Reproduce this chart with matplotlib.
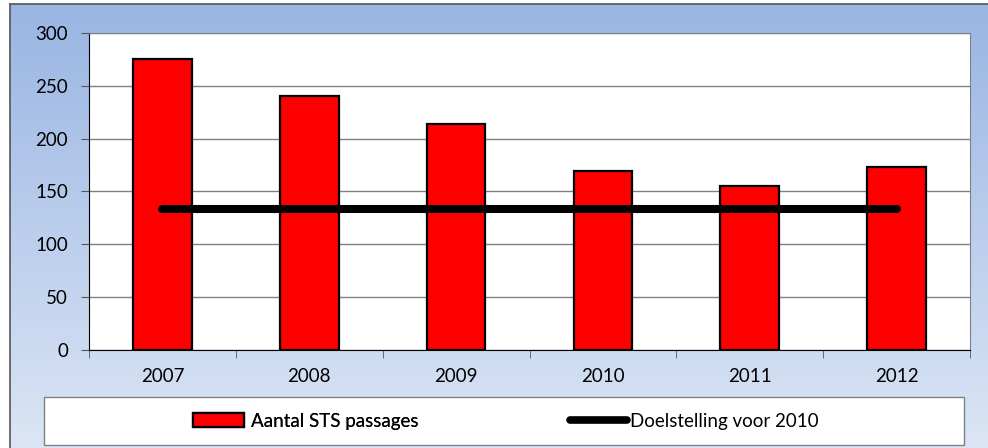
import numpy as np
import matplotlib.pyplot as plt
from matplotlib.lines import Line2D
from matplotlib.patches import Patch, Rectangle

years = ['2007', '2008', '2009', '2010', '2011', '2012']
sts_passages = [275, 240, 214, 169, 155, 173]
target_2010 = [133, 133, 133, 133, 133, 133]

plt.rcParams['font.family'] = ['Lato', 'DejaVu Sans']
FS = 13.5
W, H = 988, 448

fig = plt.figure(figsize=(W / 100, H / 100), dpi=100)

# gradient background of the chart area (pixel coordinates)
bg = fig.add_axes([0, 0, 1, 1], zorder=-10)
bg.set_xlim(0, W)
bg.set_ylim(H, 0)
grad = np.linspace(0, 1, 256).reshape(-1, 1)
top = np.array([0.60, 0.71, 0.89])
bottom = np.array([0.86, 0.90, 0.96])
img = top + (bottom - top) * grad[:, :, None]
bg.imshow(img, aspect='auto', extent=[9.5, W, H, 4.5])
bg.plot([9.5, 9.5], [H, 4.5], color='#555555', lw=1.2)
bg.plot([9.5, W], [4.5, 4.5], color='#555555', lw=1.2)
# legend box
bg.add_patch(Rectangle((44, 397), 920, 48, facecolor='white', edgecolor='#808080', lw=1))
bg.axis('off')

ax = fig.add_axes([89 / W, 1 - 350 / H, (970 - 89) / W, (350 - 33) / H])
ax.set_facecolor('white')
x = np.arange(len(years))
ax.bar(x, sts_passages, width=0.40, color='#FF0000', edgecolor='black', linewidth=1.6, zorder=3)
ax.plot(x, target_2010, color='black', lw=5.8, solid_capstyle='round', zorder=4)

ax.set_xlim(-0.5, len(years) - 0.5)
ax.set_ylim(0, 300)
ax.set_yticks(range(0, 301, 50))
ax.yaxis.grid(True, color='#808080', lw=1, zorder=0)
ax.set_xticks(x)
ax.set_xticklabels(years, fontsize=FS)
ax.tick_params(axis='x', length=0, pad=13)
ax.set_xticks(np.arange(-0.5, len(years)), minor=True)
ax.tick_params(axis='x', which='minor', length=6, color='#555555')
ax.tick_params(axis='y', length=6, color='#555555', labelsize=FS, pad=9)
for side in ['top', 'right']:
    ax.spines[side].set_color('#808080')
ax.spines['left'].set_color('black')
ax.spines['bottom'].set_color('black')

# two legend entries, placed separately inside the box
px = 100 / 72 * FS
yc = 1 - 421 / H
leg1 = fig.legend([Patch(facecolor='#FF0000', edgecolor='black', linewidth=1.6)],
                  ['Aantal STS passages'], loc='center left',
                  bbox_to_anchor=(193 / W, yc), frameon=False, fontsize=FS,
                  borderpad=0, borderaxespad=0, handlelength=51 / px,
                  handleheight=0.75, handletextpad=7 / px)
fig.add_artist(leg1)
leg2 = fig.legend([Line2D([0], [0], color='black', lw=5.5, solid_capstyle='round')],
                  ['Doelstelling voor 2010'], loc='center left',
                  bbox_to_anchor=(570 / W, yc), frameon=False, fontsize=FS,
                  borderpad=0, borderaxespad=0, handlelength=57 / px,
                  handletextpad=3 / px)

fig.savefig('out.png', dpi=100)
